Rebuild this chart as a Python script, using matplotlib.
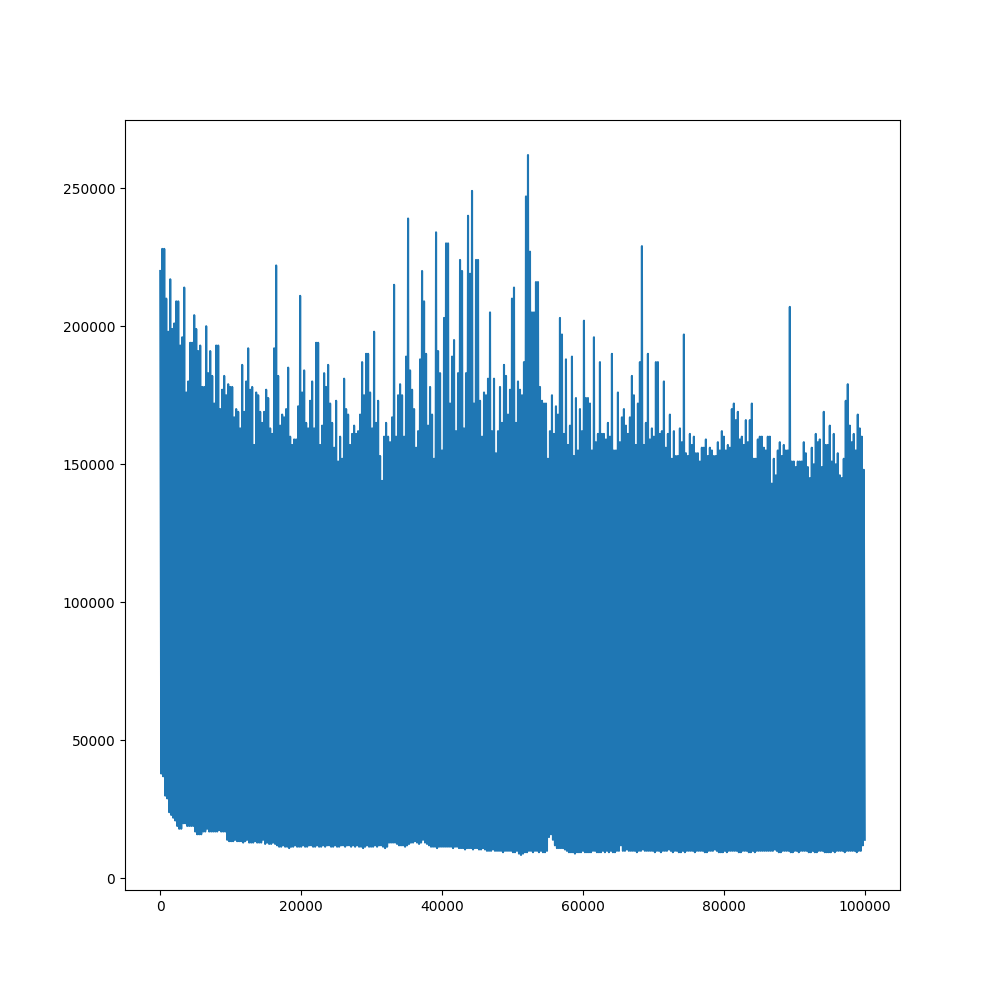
"""plot.py

Recria o gráfico de linha densa (100000 pontos) com envelope superior e inferior.
Os valores foram lidos do gráfico em milhares, a cada ~2 px na horizontal.
"""

import numpy as np
import matplotlib
matplotlib.use("Agg")
import matplotlib.pyplot as plt

# Picos (envelope superior), em milhares
peaks_k = [
	220, 228, 228, 210, 198, 217, 199, 201, 209, 209, 193, 196, 214, 176, 180, 194, 194, 204, 199, 191,
	193, 178, 178, 200, 183, 191, 182, 172, 193, 193, 170, 177, 182, 175, 179, 178, 178, 167, 170, 169,
	163, 186, 169, 180, 192, 177, 178, 157, 176, 175, 169, 165, 169, 177, 174, 163, 161, 192,
	222, 182, 164, 168, 167, 170, 185, 160, 157, 159, 159, 171, 211, 176, 184, 165, 163, 173, 180, 163,
	194, 194, 157, 164, 183, 178, 186, 172, 165, 156, 173, 151, 160, 152, 181, 170, 168, 157, 161, 164,
	161, 162, 168, 187, 175, 190, 190, 176, 163, 198, 165, 173, 153, 144, 160, 165, 160, 158, 167, 215,
	160, 175, 179, 175, 160, 189, 239, 184, 177, 170, 156, 162, 188, 220, 209, 190, 164, 178, 168, 152,
	234, 191, 183, 155, 203, 230, 230, 172, 189, 195, 162, 183, 224, 220, 163, 183, 240, 219, 249, 172,
	224, 224, 173, 160, 176, 175, 181, 205, 162, 181, 154, 162, 178, 165, 186, 182, 168, 177, 210, 214,
	165, 180, 177, 175, 187, 247, 262, 227, 205, 205, 216, 216, 178, 173, 172, 172, 152, 162, 175, 161,
	171, 168, 203, 197, 161, 188, 157, 164, 189, 153, 174, 155, 170, 162, 202, 174, 174, 172, 155, 196,
	158, 161, 187, 161, 161, 159, 165, 160, 190, 155, 155, 176, 158, 167, 170, 164, 161, 167, 182, 175,
	157, 172, 187, 229, 157, 165, 190, 159, 163, 160, 187, 187, 161, 162, 180, 156, 161, 168, 152, 162,
	153, 153, 163, 158, 197, 154, 153, 161, 157, 160, 154, 154, 151, 156, 156, 159, 153, 156, 155, 153,
	153, 158, 155, 162, 160, 155, 157, 156, 170, 172, 166, 169, 159, 160, 157, 166, 158, 166, 172, 152,
	152, 159, 160, 160, 156, 155, 160, 160, 143, 152, 146, 155, 158, 153, 157, 155, 155, 207, 151, 151,
	149, 151, 151, 151, 158, 154, 149, 145, 156, 150, 161, 158, 159, 149, 169, 157, 157, 164, 151, 161,
	150, 154, 146, 145, 152, 173, 179, 164, 158, 161, 155, 168, 163, 160, 148,
]

# Vales (envelope inferior), em milhares
troughs_k = [
	38, 37, 30, 29, 24, 23, 22, 21, 19, 18, 18, 20, 20, 19, 19, 19, 19, 17, 16, 16,
	16, 17, 17, 18, 17, 17, 17, 17, 17, 17.5, 17, 17, 17, 14, 13.5, 13.5, 13.5, 14, 13.5, 13.5,
	13.5, 13, 13.5, 14, 13, 13, 13, 13.5, 13, 13, 13, 14, 12.5, 13, 12.5, 12.5, 13, 12.5, 12, 11.5,
	11.5, 12, 11.5, 11.5, 11, 11.5, 11.5, 12, 11.5, 11.5, 11.5, 12, 11.5, 11.5, 12, 12, 11.5, 11.5, 12, 11.5,
	11.5, 12, 11.5, 12, 12, 11.5, 11.5, 12, 11.5, 11.5, 12, 12, 11.5, 12, 12, 11.5, 12, 11.5, 12, 11.5,
	11.5, 11, 11.5, 12, 11.5, 11.5, 11.5, 12, 11.5, 12, 12, 11.5, 11, 11.5, 13, 13, 13, 13, 12.5, 12,
	12, 12, 11.5, 12, 12.5, 13, 13, 13.5, 13, 12.5, 13, 14, 13, 12.5, 12, 11.5, 11.5, 11.5, 11, 11.5,
	11.5, 11.5, 11.5, 11.5, 11.5, 11.5, 11, 11.5, 11.5, 11, 11, 11, 10.5, 11, 11, 11, 10.5, 11, 11, 10.5,
	10.5, 11, 10.5, 10, 10, 10, 10.5, 10, 10, 10, 10, 9.5, 10, 10, 10, 10, 9.5, 9.5, 10, 9,
	8.5, 9, 9.5, 9.5, 10, 10, 9.5, 10, 10, 9.5, 10, 9.5, 9.5, 10, 15, 16, 14, 12, 11, 11,
	11, 11, 10.5, 10, 9.5, 9.5, 9.5, 9, 9.5, 9.5, 9.5, 10, 9.5, 9.5, 9.5, 9.5, 10, 10, 9.5, 9.5,
	9.5, 10, 9.5, 10, 9.5, 10, 9.5, 9.5, 10, 10, 12, 10, 10, 10.5, 10, 10, 10, 10, 9.5, 10,
	10, 10.5, 10, 10, 10, 10, 10, 9.5, 10, 10, 9.5, 10, 10, 10, 10.5, 10, 9.5, 10, 10, 9.5,
	9.5, 10, 9.5, 10, 10, 10, 10, 9.5, 10, 10, 10, 10, 9.5, 9.5, 10, 10, 10, 10.5, 10, 9.5,
	9.5, 9.5, 10, 9.5, 10, 10, 10, 10, 10, 9.5, 9.5, 10, 10, 10, 9.5, 9.5, 10, 9.5, 10, 10,
	10, 10, 10, 10, 10, 10, 10, 10.5, 10, 9.5, 9.5, 10, 10, 10, 10, 9.5, 9.5, 10, 10, 9.5,
	10, 10, 10, 10, 9.5, 9.5, 10, 9.5, 9.5, 10, 10, 10, 9.5, 9.5, 9.5, 9.5, 10, 9.5, 10, 10,
	10, 10, 9.5, 10, 10, 10, 10, 10, 9.5, 10, 10, 12, 14,
]


def build_series(peaks, troughs):
	# Intercala picos e vales: pico, vale, pico, vale...
	n = min(len(peaks), len(troughs))
	y = np.empty(2 * n)
	y[0::2] = np.asarray(peaks[:n]) * 1000
	y[1::2] = np.asarray(troughs[:n]) * 1000
	x = np.linspace(0, 99999, 2 * n)
	return x, y


def main():
	x, y = build_series(peaks_k, troughs_k)

	fig, ax = plt.subplots(figsize=(10, 10), dpi=100)
	ax.plot(x, y)

	fig.savefig("out.png", dpi=100)
	plt.close(fig)


if __name__ == '__main__':
	main()
